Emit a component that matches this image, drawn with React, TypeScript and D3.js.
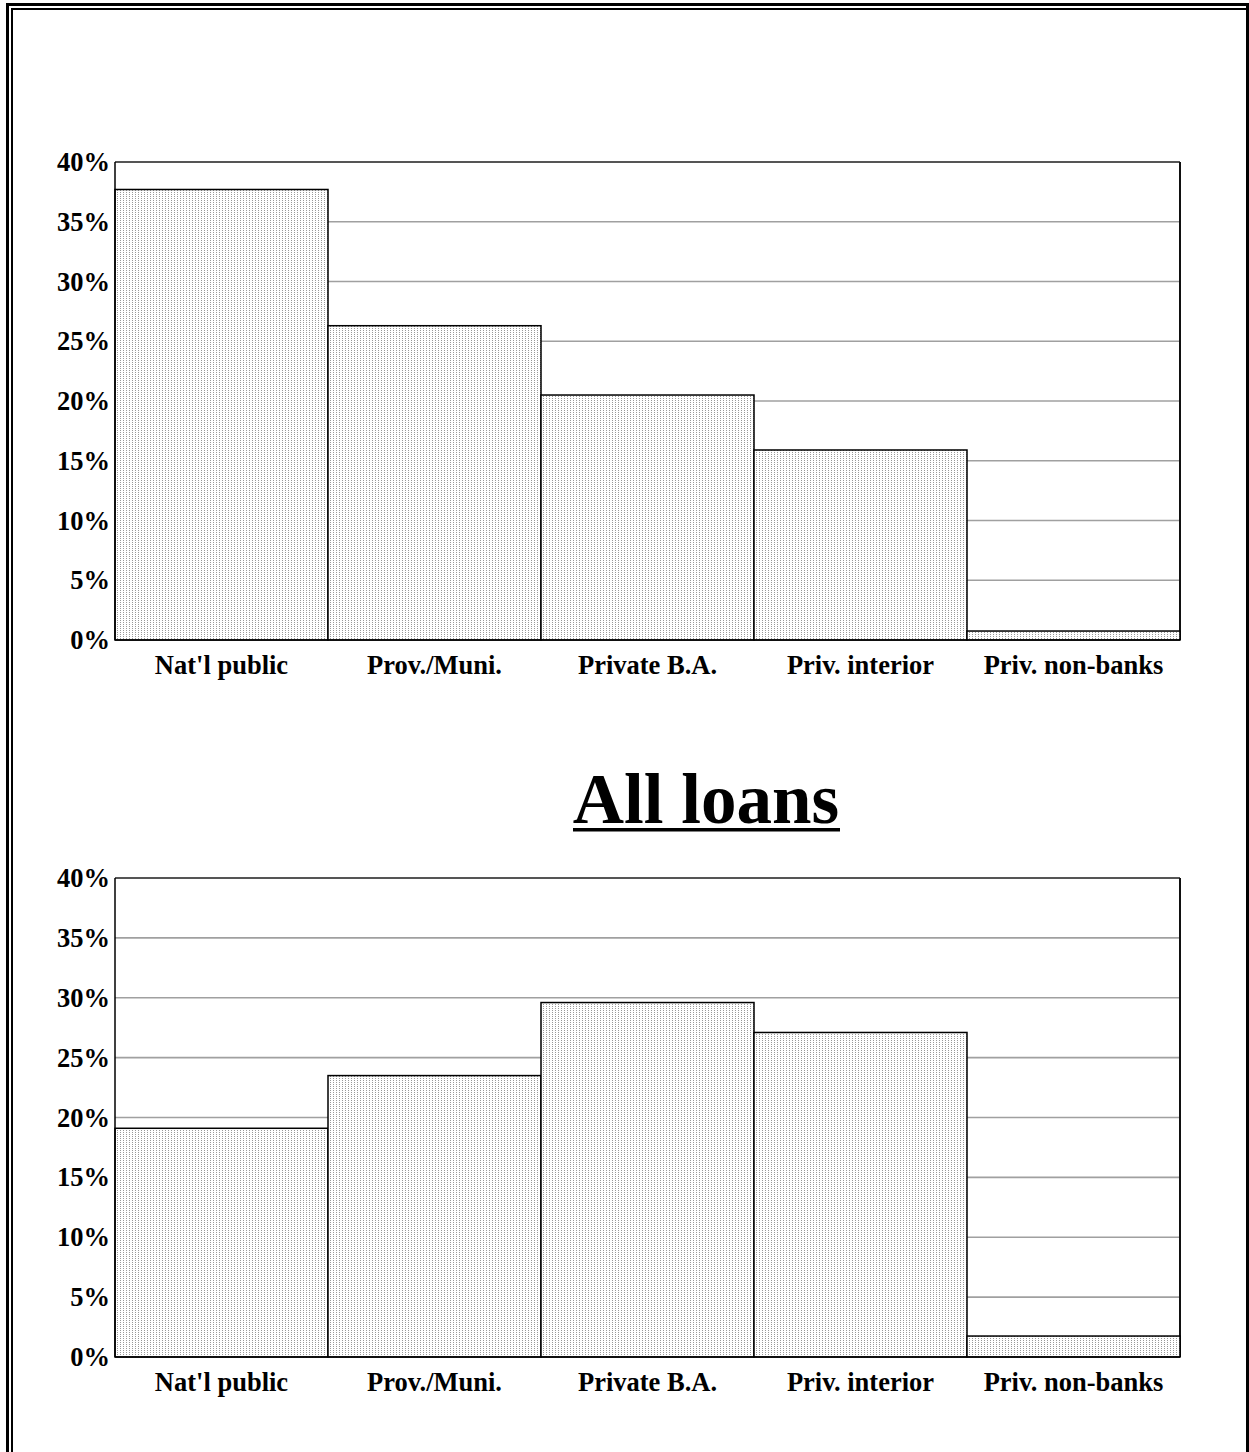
import React from "react";
import * as d3 from "d3";

const categories = ["Nat'l public", "Prov./Muni.", "Private B.A.", "Priv. interior", "Priv. non-banks"];
const depositsValues = [37.7, 26.3, 20.5, 15.9, 0.75];
const loansValues = [19.1, 23.5, 29.6, 27.1, 1.75];
const yTicks = [0, 5, 10, 15, 20, 25, 30, 35, 40];
const titleText = "All loans";

const W = 1249;
const H = 1452;
const FONT = "'Liberation Serif', 'Times New Roman', serif";

function BarChart({ values, top, bottom }: { values: number[]; top: number; bottom: number }) {
  const left = 115;
  const right = 1180;
  const x = d3.scaleBand<string>().domain(categories).range([left, right]).padding(0);
  const y = d3.scaleLinear().domain([0, 40]).range([bottom, top]);
  return (
    <g>
      {yTicks.filter((t) => t > 0 && t < 40).map((t) => (
        <line key={"g" + t} x1={left} x2={right} y1={y(t)} y2={y(t)} stroke="#a0a0a0" strokeWidth={1.6} />
      ))}
      <line x1={left} x2={right} y1={y(40)} y2={y(40)} stroke="#555" strokeWidth={2} />
      <line x1={right} x2={right} y1={y(40)} y2={y(0)} stroke="#111" strokeWidth={2} />
      {values.map((v, i) => (
        <rect
          key={"b" + i}
          x={x(categories[i])!}
          y={y(v)}
          width={x.bandwidth()}
          height={y(0) - y(v)}
          fill="url(#dots)"
          stroke="#000"
          strokeWidth={1.5}
        />
      ))}
      <line x1={left} x2={left} y1={y(40)} y2={y(0)} stroke="#000" strokeWidth={1.5} />
      <line x1={left} x2={right} y1={y(0)} y2={y(0)} stroke="#000" strokeWidth={1.5} />
      {yTicks.map((t) => (
        <text
          key={"t" + t}
          x={110}
          y={y(t) + 9}
          textAnchor="end"
          fontFamily={FONT}
          fontWeight="bold"
          fontSize={26.5}
        >
          {t + "%"}
        </text>
      ))}
      {categories.map((c) => (
        <text
          key={"c" + c}
          x={x(c)! + x.bandwidth() / 2}
          y={bottom + 34}
          textAnchor="middle"
          fontFamily={FONT}
          fontWeight="bold"
          fontSize={26.5}
        >
          {c}
        </text>
      ))}
    </g>
  );
}

export default function App() {
  return (
    <svg
      width={W}
      height={H}
      style={{ position: "absolute", left: 0, top: 0, background: "#fff" }}
    >
      <defs>
        <pattern id="dots" width={3} height={2} patternUnits="userSpaceOnUse">
          <rect width={3} height={2} fill="#fff" />
          <rect x={0} y={0} width={1} height={1} fill="#999" />
        </pattern>
      </defs>
      <rect width={W} height={H} fill="#fff" />
      {/* page border */}
      <rect x={6} y={3} width={3} height={H - 3} fill="#000" />
      <rect x={6} y={3} width={W - 6} height={3} fill="#000" />
      <rect x={11} y={8} width={2} height={H - 8} fill="#000" />
      <rect x={11} y={8} width={W - 14} height={2} fill="#000" />
      <rect x={1246} y={3} width={3} height={H - 3} fill="#000" />

      <BarChart values={depositsValues} top={162} bottom={640} />

      <text
        x={706}
        y={823}
        textAnchor="middle"
        fontFamily={FONT}
        fontWeight="bold"
        fontSize={71}
      >
        {titleText}
      </text>
      <rect x={573} y={828} width={267} height={3.5} fill="#000" />

      <BarChart values={loansValues} top={878} bottom={1357} />
    </svg>
  );
}
